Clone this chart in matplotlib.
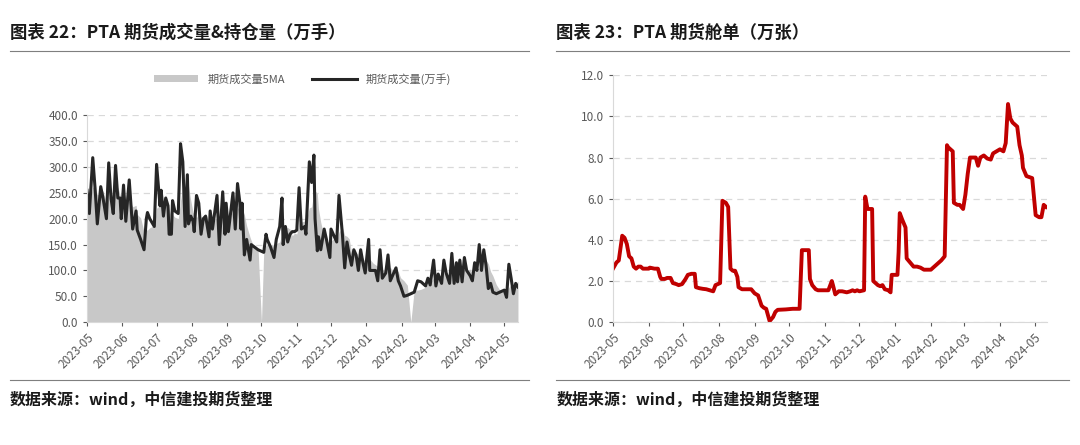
import matplotlib.pyplot as plt
import matplotlib.dates as mdates
import numpy as np
import pandas as pd

plt.rcParams['font.family'] = 'Noto Sans CJK SC'

START = pd.Timestamp('2023-05-01')

# 期货成交量(万手): days since 2023-05-01, value
vol_days = [0, 2, 5, 7, 9, 12, 14, 17, 19, 21, 23, 25, 27, 29, 30, 32, 34, 37, 40, 43,
            44, 47, 50, 52, 53, 55, 59, 61, 64, 65, 67, 69, 71, 72, 74, 75, 77, 80, 82, 84,
            86, 88, 89, 91, 93, 94, 96, 98, 100, 102, 104, 107, 108, 110, 114, 116, 119, 121, 122, 124,
            128, 130, 132, 134, 135, 136, 138, 140, 143, 144, 147, 150, 155, 157, 158, 161, 164, 166, 169, 171,
            172, 174, 176, 178, 180, 182, 184, 186, 188, 191, 192, 195, 197, 199, 200, 202, 203, 205, 208, 210,
            213, 214, 217, 219, 221, 224, 226, 228, 230, 232, 234, 236, 238, 240, 242, 244, 247, 248, 251, 253,
            255, 257, 259, 262, 264, 266, 269, 271, 273, 275, 278, 281, 287, 290, 293, 297, 299, 301, 304, 306,
            308, 311, 313, 315, 318, 320, 322, 324, 325, 327, 329, 331, 333, 336, 338, 340, 342, 344, 346, 348,
            350, 352, 354, 356, 359, 362, 366, 368, 370, 372, 374, 376, 378]
vol_vals = [255, 210, 318, 260, 190, 262, 240, 200, 308, 240, 210, 303, 240, 240, 200, 265, 195, 275, 180, 215,
            178, 160, 140, 200, 212, 200, 185, 305, 225, 255, 205, 240, 225, 170, 170, 235, 215, 210, 345, 310,
            185, 285, 190, 205, 195, 175, 245, 230, 170, 200, 205, 165, 215, 180, 245, 150, 252, 170, 230, 175,
            250, 180, 268, 232, 180, 230, 130, 160, 120, 150, 145, 140, 135, 170, 160, 145, 125, 160, 185, 240,
            150, 185, 155, 170, 175, 175, 178, 260, 180, 185, 170, 310, 270, 323, 200, 138, 165, 140, 180, 160,
            125, 180, 165, 155, 245, 170, 105, 155, 130, 110, 140, 130, 100, 140, 115, 95, 160, 100, 100, 100,
            80, 140, 85, 95, 130, 80, 95, 105, 80, 70, 50, 52, 58, 80, 78, 70, 85, 72, 120, 70,
            93, 75, 120, 95, 75, 133, 75, 115, 78, 120, 78, 125, 100, 90, 80, 115, 100, 150, 100, 140,
            110, 65, 75, 58, 55, 58, 62, 48, 112, 85, 55, 75, 68]
# holidays where the 5MA series drops to zero
holiday_days = [153, 284]

# 期货舱单(万张)
wr_days = [0, 3, 5, 7, 8, 10, 12, 14, 16, 18, 20, 22, 24, 26, 28, 31, 32, 36, 39, 41,
           42, 45, 47, 50, 52, 55, 57, 60, 63, 65, 68, 71, 72, 75, 78, 81, 84, 87, 89, 91,
           93, 95, 98, 100, 102, 104, 106, 108, 109, 112, 114, 117, 120, 123, 126, 129, 131, 133, 136, 139,
           141, 143, 150, 156, 162, 164, 167, 170, 171, 173, 176, 178, 183, 187, 190, 191, 193, 196, 199, 203,
           206, 208, 210, 212, 214, 218, 219, 221, 225, 226, 228, 230, 232, 234, 236, 239, 241, 242, 245, 247,
           248, 249, 251, 254, 255, 258, 261, 264, 267, 270, 276, 279, 282, 285, 288, 290, 291, 295, 296, 299,
           301, 304, 306, 308, 310, 315, 317, 319, 322, 325, 328, 330, 333, 336, 339, 341, 343, 345, 347, 351,
           353, 355, 356, 359, 364, 367, 370, 372, 374, 376]
wr_vals = [2.6, 2.9, 3.0, 3.8, 4.2, 4.1, 3.8, 3.2, 3.1, 2.7, 2.6, 2.7, 2.7, 2.6, 2.6, 2.6, 2.65, 2.6, 2.6, 2.2,
           2.1, 2.1, 2.15, 2.15, 1.9, 1.85, 1.8, 1.85, 2.1, 2.3, 2.35, 2.35, 1.7, 1.65, 1.62, 1.6, 1.55, 1.5, 1.8, 1.85,
           1.9, 5.9, 5.8, 5.6, 2.6, 2.5, 2.5, 2.2, 1.7, 1.6, 1.6, 1.6, 1.6, 1.4, 1.3, 0.8, 0.7, 0.65, 0.05, 0.25,
           0.5, 0.6, 0.62, 0.65, 0.65, 3.5, 3.5, 3.5, 2.1, 1.8, 1.6, 1.55, 1.55, 1.55, 2.0, 1.8, 1.35, 1.5, 1.5, 1.45,
           1.5, 1.55, 1.5, 1.55, 1.5, 1.55, 6.1, 5.5, 5.5, 2.0, 1.9, 1.8, 1.75, 1.8, 1.6, 1.55, 1.45, 2.3, 2.3, 2.3,
           3.4, 5.3, 5.0, 4.6, 3.1, 2.9, 2.7, 2.7, 2.65, 2.55, 2.55, 2.7, 2.85, 3.0, 3.2, 8.6, 8.5, 8.3, 5.8, 5.7,
           5.7, 5.5, 6.2, 7.2, 8.0, 8.0, 7.6, 8.0, 8.1, 7.95, 7.9, 8.2, 8.3, 8.4, 8.3, 8.7, 10.6, 9.9, 9.7, 9.5,
           8.6, 8.1, 7.5, 7.1, 7.0, 5.2, 5.1, 5.1, 5.7, 5.6]

vol_dates = START + pd.to_timedelta(vol_days, unit='D')
wr_dates = START + pd.to_timedelta(wr_days, unit='D')

ma = pd.Series(vol_vals, index=vol_dates).rolling(5, min_periods=1).mean()
for d in holiday_days:
    ma[START + pd.Timedelta(days=d)] = 0.0
ma = ma.sort_index()

fig = plt.figure(figsize=(10.8, 4.45), dpi=100)


def style_axis(ax, x_end):
    ax.set_xlim(START, START + pd.Timedelta(days=x_end))
    ax.xaxis.set_major_locator(mdates.MonthLocator())
    ax.xaxis.set_major_formatter(mdates.DateFormatter('%Y-%m'))
    plt.setp(ax.get_xticklabels(), rotation=45, ha='right', rotation_mode='anchor')
    ax.tick_params(labelsize=8.5, colors='#595959', length=3)
    ax.grid(axis='y', linestyle=(0, (5, 4)), color='#d9d9d9', linewidth=0.9)
    ax.set_axisbelow(True)
    for s in ['top', 'right']:
        ax.spines[s].set_visible(False)
    for s in ['left', 'bottom']:
        ax.spines[s].set_color('#d9d9d9')
    ax.yaxis.set_major_formatter(plt.FuncFormatter(lambda v, p: '%.1f' % v))


ax1 = fig.add_axes([0.0806, 0.276, 0.399, 0.465])
ax1.fill_between(ma.index, ma.values, color='#c8c8c8', linewidth=0, label='期货成交量5MA')
ax1.plot(vol_dates, vol_vals, color='#262626', linewidth=2.2, label='期货成交量(万手)')
ax1.set_ylim(0, 400)
ax1.set_yticks(np.arange(0, 401, 50))
style_axis(ax1, 378)
ax1.legend(loc='lower center', bbox_to_anchor=(0.5, 1.1), ncol=2, frameon=False,
           fontsize=8, labelcolor='#595959', handlelength=4, columnspacing=2.5)

ax2 = fig.add_axes([0.5676, 0.276, 0.402, 0.555])
ax2.plot(wr_dates, wr_vals, color='#c00000', linewidth=2.8)
ax2.set_ylim(0, 12)
ax2.set_yticks(np.arange(0, 12.1, 2))
style_axis(ax2, 377)

fig.text(0.009, 0.915, '图表 22：PTA 期货成交量&持仓量（万手）', fontsize=12.5, fontweight='bold', color='#1a1a1a')
fig.text(0.515, 0.915, '图表 23：PTA 期货舱单（万张）', fontsize=12.5, fontweight='bold', color='#1a1a1a')
fig.text(0.009, 0.09, '数据来源：wind，中信建投期货整理', fontsize=11.5, fontweight='bold',
         style='italic', color='#1a1a1a')
fig.text(0.515, 0.09, '数据来源：wind，中信建投期货整理', fontsize=11.5, fontweight='bold',
         style='italic', color='#1a1a1a')
for x0, x1 in [(0.009, 0.49), (0.515, 0.99)]:
    fig.add_artist(plt.Line2D([x0, x1], [0.885, 0.885], color='#7f7f7f', linewidth=0.8))
    fig.add_artist(plt.Line2D([x0, x1], [0.145, 0.145], color='#7f7f7f', linewidth=0.8))

fig.savefig('out.png', dpi=100)
